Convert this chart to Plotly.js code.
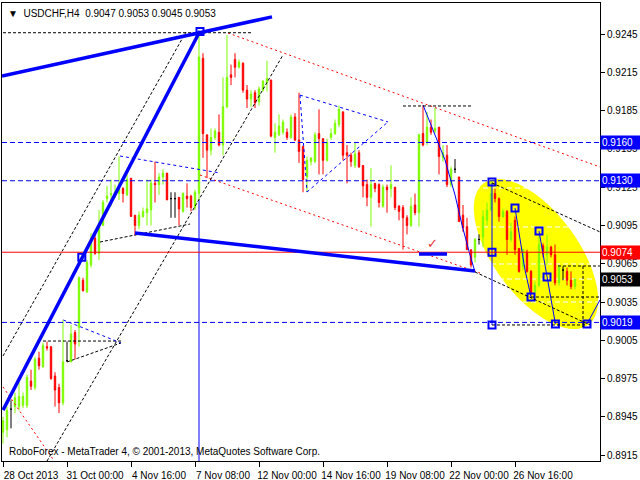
<!DOCTYPE html>
<html><head><meta charset="utf-8">
<script src="https://cdn.plot.ly/plotly-3.0.1.min.js"></script>
<style>html,body{margin:0;padding:0;background:#fff}</style>
</head><body><div id="chart" style="width:640px;height:480px"></div>
<script>
// ---------- data (USDCHF H4 candles, bar index 0 = 28 Oct 2013 08:00) ----------
const tickBars = [0,16,32,48,64,80,96,112,128];
const tickText = ["28 Oct 2013","31 Oct 00:00","4 Nov 16:00","7 Nov 08:00","12 Nov 00:00","14 Nov 16:00","19 Nov 08:00","22 Nov 00:00","26 Nov 16:00"];
const priceTicks = [0.8915,0.8945,0.8975,0.9005,0.9035,0.9065,0.9095,0.9125,0.9155,0.9185,0.9215,0.9245];

const openP = [.8933,.8935,.8951,.8953,.8953,.8954,.8954,.8973,.8968,.8991,
 .8984,.9000,.9000,.8977,.8968,.8956,.8989,.8988,.9011,.9015,
 .9052,.9043,.9064,.9085,.9073,.9095,.9116,.9119,.9120,.9120,
 .9124,.9119,.9132,.9103,.9095,.9102,.9105,.9107,.9128,.9127,
 .9133,.9136,.9116,.9116,.9117,.9106,.9118,.9118,.9109,.9120,
 .9226,.9166,.9154,.9164,.9168,.9158,.9188,.9213,.9225,.9219,
 .9222,.9201,.9194,.9199,.9192,.9201,.9207,.9209,.9164,.9166,
 .9168,.9168,.9164,.9180,.9162,.9157,.9133,.9145,.9145,.9167,
 .9163,.9146,.9164,.9167,.9174,.9184,.9152,.9150,.9142,.9152,
 .9142,.9127,.9117,.9128,.9127,.9110,.9125,.9124,.9125,.9110,
 .9109,.9101,.9095,.9111,.9105,.9167,.9160,.9172,.9169,.9172,
 .9148,.9150,.9127,.9139,.9133,.9103,.9094,.9076,.9070,.9084,
 .9086,.9099,.9107,.9120,.9116,.9102,.9106,.9084,.9099,.9077,
 .9063,.9074,.9059,.9043,.9048,.9079,.9072,.9078,.9072,.9050,
 .9060,.9059,.9052,.9047];
const highP = [.8945,.8953,.8958,.8964,.8972,.8964,.8978,.8982,.8992,.8996,
 .9003,.9004,.9000,.8980,.8971,.9021,.9004,.9017,.9013,.9055,
 .9054,.9068,.9089,.9088,.9107,.9115,.9126,.9131,.9127,.9149,
 .9125,.9135,.9132,.9103,.9106,.9109,.9131,.9131,.9145,.9136,
 .9139,.9136,.9121,.9121,.9117,.9121,.9128,.9119,.9123,.9246,
 .9230,.9166,.9171,.9171,.9182,.9211,.9244,.9221,.9230,.9225,
 .9223,.9205,.9201,.9201,.9204,.9209,.9224,.9209,.9175,.9182,
 .9178,.9171,.9182,.9183,.9199,.9157,.9149,.9148,.9168,.9186,
 .9163,.9163,.9171,.9178,.9189,.9184,.9158,.9152,.9160,.9154,
 .9142,.9131,.9140,.9128,.9128,.9127,.9127,.9142,.9125,.9111,
 .9111,.9103,.9117,.9120,.9167,.9189,.9184,.9178,.9187,.9172,
 .9158,.9158,.9141,.9147,.9133,.9111,.9101,.9076,.9085,.9088,
 .9107,.9113,.9130,.9124,.9117,.9108,.9107,.9097,.9102,.9077,
 .9077,.9076,.9060,.9051,.9088,.9081,.9088,.9079,.9080,.9064,
 .9063,.9062,.9059,.9053];
const lowP = [.8924,.8929,.8936,.8948,.8950,.8952,.8952,.8966,.8966,.8982,
 .8984,.8997,.8974,.8953,.8948,.8954,.8988,.8988,.8990,.9000,
 .9043,.9042,.9062,.9072,.9068,.9095,.9113,.9110,.9117,.9115,
 .9113,.9118,.9102,.9087,.9092,.9101,.9095,.9095,.9113,.9119,
 .9127,.9115,.9101,.9101,.9095,.9105,.9109,.9106,.9107,.9115,
 .9148,.9132,.9150,.9162,.9157,.9150,.9187,.9205,.9211,.9218,
 .9199,.9187,.9188,.9187,.9189,.9200,.9200,.9164,.9152,.9165,
 .9166,.9162,.9163,.9161,.9144,.9121,.9121,.9142,.9144,.9135,
 .9135,.9145,.9162,.9166,.9172,.9146,.9128,.9141,.9140,.9140,
 .9117,.9110,.9094,.9121,.9109,.9109,.9105,.9117,.9107,.9099,
 .9076,.9088,.9094,.9103,.9094,.9157,.9158,.9166,.9167,.9135,
 .9145,.9125,.9125,.9136,.9098,.9090,.9076,.9062,.9066,.9080,
 .9078,.9095,.9106,.9113,.9098,.9101,.9072,.9082,.9072,.9058,
 .9060,.9058,.9040,.9042,.9047,.9070,.9064,.9070,.9048,.9048,
 .9052,.9048,.9045,.9045];
const closeP = [.8942,.8950,.8951,.8960,.8961,.8961,.8976,.8969,.8990,.8985,
 .9001,.8999,.8975,.8966,.8956,.8988,.8989,.9010,.9002,.9054,
 .9044,.9066,.9084,.9073,.9095,.9113,.9118,.9120,.9121,.9123,
 .9120,.9131,.9102,.9095,.9103,.9106,.9108,.9128,.9127,.9133,
 .9136,.9115,.9116,.9116,.9108,.9120,.9116,.9109,.9121,.9227,
 .9167,.9154,.9164,.9169,.9158,.9188,.9211,.9211,.9219,.9223,
 .9201,.9194,.9198,.9191,.9202,.9208,.9210,.9165,.9168,.9173,
 .9176,.9164,.9180,.9162,.9153,.9131,.9146,.9148,.9166,.9163,
 .9146,.9160,.9167,.9175,.9186,.9150,.9150,.9145,.9151,.9141,
 .9126,.9117,.9127,.9124,.9113,.9125,.9123,.9127,.9109,.9106,
 .9101,.9095,.9110,.9105,.9166,.9158,.9172,.9168,.9171,.9149,
 .9152,.9127,.9139,.9139,.9098,.9093,.9076,.9064,.9084,.9084,
 .9102,.9107,.9120,.9116,.9102,.9106,.9084,.9090,.9076,.9059,
 .9076,.9059,.9042,.9048,.9080,.9073,.9078,.9072,.9050,.9062,
 .9060,.9052,.9047,.9053];

// ---------- chart objects: anchor points as [bar index, price] ----------
const thickBlueLines = [
  [[-0.25,0.92121],[67.25,0.92584]],
  [[0,0.89503],[49.25,0.92474]],
  [[33,0.90891],[118,0.90593]],
  [[104,0.90726],[111,0.90726]]
];
const blueDashLevels = [0.9160, 0.9130, 0.9019];
const redLevel = 0.9074;
const lastPrice = 0.9053;
const blackDotLines = [
  [[0,0.9246],[62.25,0.9246]],
  [[100,0.91886],[117.25,0.91886]],
  [[0,0.89927],[45.75,0.92466]],
  [[11,0.89104],[70,0.92286]],
  [[24.25,0.90820],[46.75,0.90961]],
  [[10,0.90044],[29.5,0.90044]],
  [[16,0.89880],[29.5,0.90029]],
  [[122.25,0.91283],[149.25,0.90899]],
  [[118,0.90585],[146.75,0.90170]],
  [[138.75,0.90632],[149.25,0.90632]],
  [[145,0.90632],[145,0.90154]],
  [[132,0.90389],[149.25,0.90389]],
  [[122.25,0.90170],[146,0.90170]]
];
const redDotLines = [
  [[56.25,0.92458],[149.25,0.91408]],
  [[49.25,0.91345],[119.25,0.90577]],
  [[0,0.89684],[13,0.89096]]
];
const blueDotLines = [
  [[29.25,0.91494],[54.25,0.91361]],
  [[15.08,0.90209],[29.5,0.90029]],
  [[74.25,0.91971],[96.25,0.91761]],
  [[74.25,0.91971],[76,0.91212]],
  [[76,0.91212],[96.25,0.91761]]
];
const thinBluePaths = [
  [[105,0.91894],[107.5,0.91698],[110.5,0.91463],[113,0.91189],[114.75,0.90954],[116.75,0.90718],[118,0.90585]],
  [[122.25,0.91283],[122.25,0.90170]],
  [[128,0.91087],[129.25,0.90836],[130.5,0.90601],[132,0.90389]],
  [[134,0.90906],[136,0.90546],[138.1,0.90178]],
  [[146,0.90178],[149.25,0.90366]],
  [[49,0.91149],[49,0.89104]]
];
const squareX = [19.7,49.25,122.25,122.25,122.25,128,132,134,136,138.1,146];
const squareY = [0.9070,0.9247,0.9129,0.9074,0.9017,0.91087,0.90389,0.90906,0.90546,0.90178,0.90178];
const whiteDashLevels = [0.91243,0.90938,0.90648,0.90530,0.90350];
const ellipseCenter = [133.25, 0.90726];

// ---------- build ----------
const XR = [-0.25, 149.25], YR = [0.89104, 0.92693];
const W = 640, H = 480, M = {l:2, r:40, t:3, b:19};
const pxX = (W - M.l - M.r) / (XR[1] - XR[0]);
const pxY = (H - M.t - M.b) / (YR[1] - YR[0]);
const FONT = 'Liberation Sans, Arial, sans-serif';

const idx = openP.map((_, i) => i);
const normal = idx.filter(i => openP[i] !== closeP[i]);
const doji = idx.filter(i => openP[i] === closeP[i]);
const pick = (arr, ids) => ids.map(i => arr[i]);

const traces = [
  {type:'candlestick', x:normal, open:pick(openP,normal), high:pick(highP,normal), low:pick(lowP,normal), close:pick(closeP,normal),
   increasing:{line:{color:'#7CFC00', width:1}, fillcolor:'#7CFC00'},
   decreasing:{line:{color:'#FF0000', width:1}, fillcolor:'#FF0000'},
   hoverinfo:'skip', showlegend:false},
  {type:'candlestick', x:doji, open:pick(openP,doji), high:pick(highP,doji), low:pick(lowP,doji), close:pick(closeP,doji),
   increasing:{line:{color:'#000000', width:1}, fillcolor:'#000000'},
   decreasing:{line:{color:'#000000', width:1}, fillcolor:'#000000'},
   hoverinfo:'skip', showlegend:false}
];
thinBluePaths.forEach(p => traces.push({type:'scatter', mode:'lines', x:p.map(q=>q[0]), y:p.map(q=>q[1]),
  line:{color:'#0000FF', width:1}, hoverinfo:'skip', showlegend:false, cliponaxis:true}));
traces.push({type:'scatter', mode:'markers', x:squareX, y:squareY,
  marker:{symbol:'square-open', size:7, color:'#0000FF', line:{width:2, color:'#0000FF'}},
  hoverinfo:'skip', showlegend:false});

const shapes = [];
// yellow ellipse
(function(){
  const a = 88, b = 42, th = 53.6 * Math.PI / 180;
  let d = '';
  for (let k = 0; k <= 72; k++) {
    const t = 2 * Math.PI * k / 72;
    const dx = a*Math.cos(th)*Math.cos(t) - b*Math.sin(th)*Math.sin(t);
    const dy = a*Math.sin(th)*Math.cos(t) + b*Math.cos(th)*Math.sin(t);
    const x = ellipseCenter[0] + dx / pxX, y = ellipseCenter[1] - dy / pxY;
    d += (k ? 'L' : 'M') + x + ',' + y;
  }
  shapes.push({type:'path', path:d + 'Z', xref:'x', yref:'y', fillcolor:'#FFFF00', line:{width:0}, layer:'below'});
})();
whiteDashLevels.forEach(v => shapes.push({type:'line', xref:'x', yref:'y', x0:118, x1:149.25, y0:v, y1:v,
  line:{color:'#FFFFFF', width:1, dash:'5px,3px'}, layer:'below'}));
const seg = (p, color, width, dash) => shapes.push({type:'line', xref:'x', yref:'y',
  x0:p[0][0], y0:p[0][1], x1:p[1][0], y1:p[1][1], line:{color, width, dash}});
redDotLines.forEach(p => seg(p, '#FF0000', 1, '2px,3px'));
blackDotLines.forEach(p => seg(p, '#000000', 1, '3px,2px'));
blueDotLines.forEach(p => seg(p, '#0000FF', 1, '3px,3px'));
blueDashLevels.forEach(v => seg([[XR[0],v],[XR[1],v]], '#0000FF', 1, '5px,3px'));
seg([[XR[0],redLevel],[XR[1],redLevel]], '#FF0000', 1, 'solid');
thickBlueLines.forEach(p => seg(p, '#0000FF', 3.5, 'solid'));

const boxLabel = (v, bg) => ({xref:'paper', yref:'y', x:1, y:v, xanchor:'left', yanchor:'middle', xshift:0,
  text:v.toFixed(4), showarrow:false, bgcolor:bg, borderpad:1, width:38, align:'left',
  font:{family:FONT, size:10, color:'#FFFFFF'}});
const annotations = [
  boxLabel(0.9160,'#0000FF'), boxLabel(0.9130,'#0000FF'), boxLabel(0.9019,'#0000FF'),
  boxLabel(redLevel,'#FF0000'), boxLabel(lastPrice,'#000000'),
  {xref:'paper', yref:'paper', x:0, y:1, xanchor:'left', yanchor:'top', xshift:4, yshift:-3, showarrow:false,
   text:'\u25BC  USDCHF,H4\u00a0\u00a0' + [openP[143],highP[143],lowP[143],closeP[143]].map(v=>v.toFixed(4)).join(' '),
   font:{family:FONT, size:10, color:'#000'}},
  {xref:'paper', yref:'paper', x:0, y:0, xanchor:'left', yanchor:'bottom', xshift:5, yshift:2, showarrow:false,
   text:'RoboForex - MetaTrader 4, \u00A9 2001-2013, MetaQuotes Software Corp.',
   font:{family:FONT, size:10, color:'#000'}},
  {xref:'x', yref:'y', x:107.3, y:0.90805, text:'\u2713', showarrow:false, font:{family:'DejaVu Sans', size:13, color:'#E8303A'}}
];

const layout = {
  width:W, height:H, margin:M, paper_bgcolor:'#fff', plot_bgcolor:'#fff',
  showlegend:false, hovermode:false, boxgap:0.5,
  xaxis:{range:XR, showgrid:false, zeroline:false, showline:true, mirror:true, linecolor:'#000', linewidth:1,
    ticks:'outside', ticklen:5, tickcolor:'#000', tickvals:tickBars, ticktext:tickText, ticklabelshift:28,
    tickfont:{family:FONT, size:10, color:'#000'}, rangeslider:{visible:false}, fixedrange:true},
  yaxis:{range:YR, side:'right', showgrid:false, zeroline:false, showline:true, mirror:true, linecolor:'#000', linewidth:1,
    ticks:'outside', ticklen:4, tickcolor:'#000', tickvals:priceTicks, ticktext:priceTicks.map(v=>v.toFixed(4)),
    tickfont:{family:FONT, size:10, color:'#000'}, fixedrange:true},
  shapes, annotations
};
Plotly.newPlot('chart', traces, layout, {staticPlot:true, displayModeBar:false});
</script></body></html>
